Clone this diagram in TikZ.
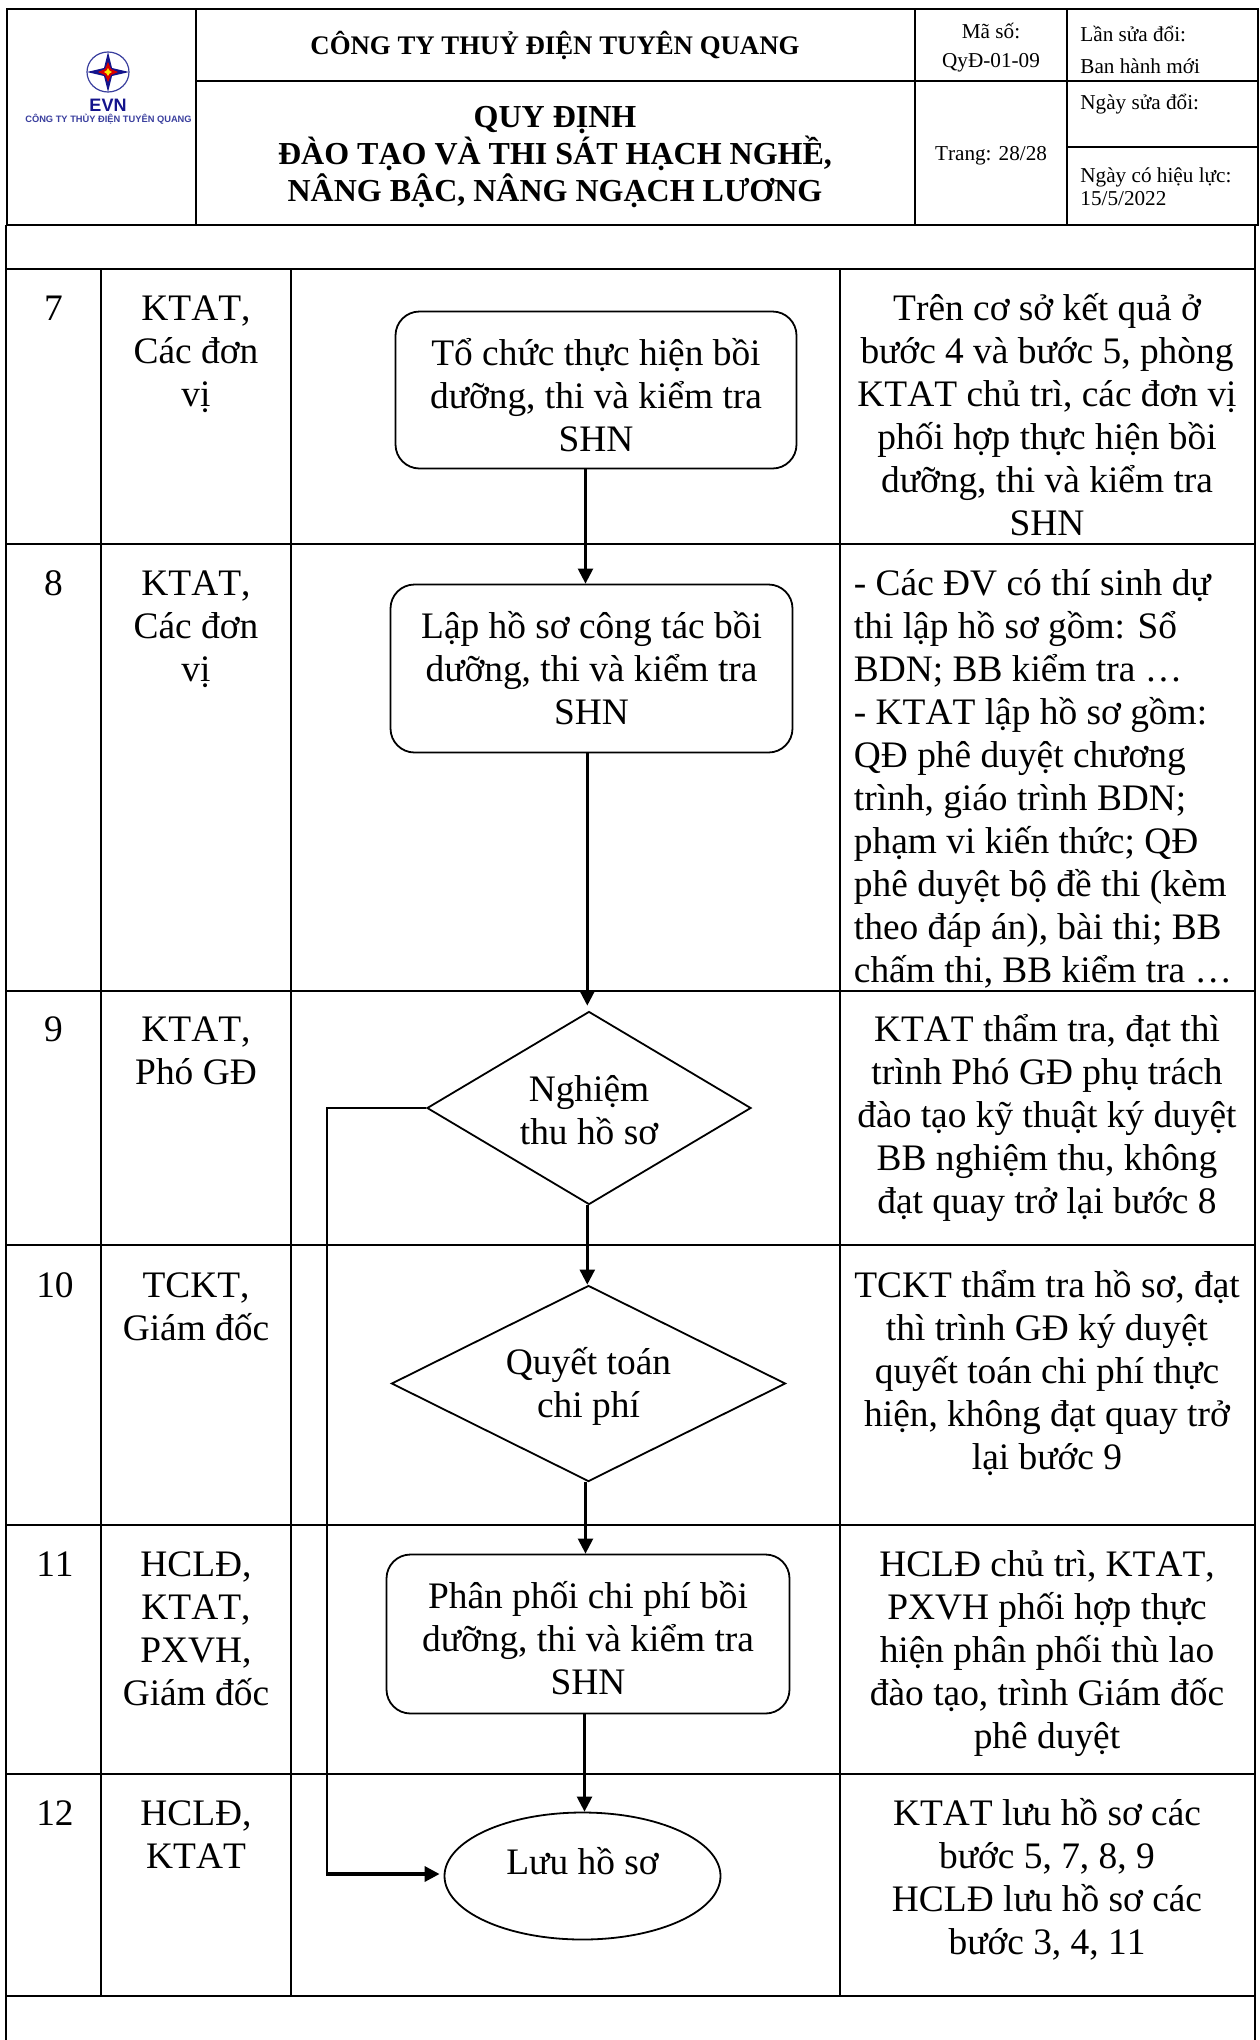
\documentclass[tikz,border=0pt]{standalone}
\usepackage{fontspec}
\setmainfont[Kerning=Off]{Liberation Serif}
\newfontfamily\logofont{Liberation Sans}
\usetikzlibrary{shapes.geometric,arrows.meta}
\newcommand\bodyfs{\fontsize{18.7}{21.5}\selectfont}
\newcommand\titlefs{\fontsize{13.4}{15}\bfseries\selectfont}
\newcommand\bigtitlefs{\fontsize{16}{18.8}\bfseries\selectfont}
\newcommand\smallfs{\fontsize{10.6}{12}\selectfont}
\newcommand\shifttext[2]{\raisebox{#1}[\height][\depth]{\begin{tabular}{@{}c@{}}#2\end{tabular}}}
\definecolor{evnblue}{HTML}{14148C}
\definecolor{evnlight}{HTML}{3A3F9E}
\tikzset{
  x=0.5pt,y=-0.5pt,
  grid/.style={line width=1pt,black},
  hgrid/.style={line width=1.3pt,black},
  cellc/.style={anchor=north,inner sep=0pt,align=center,font=\bodyfs},
  celll/.style={anchor=north west,inner sep=0pt,align=left,font=\bodyfs},
  smallc/.style={anchor=base,inner sep=0pt,font=\smallfs},
  smalll/.style={anchor=base west,inner sep=0pt,font=\smallfs},
  titlec/.style={anchor=base,inner sep=0pt,font=\titlefs},
  bigtitlec/.style={anchor=base,inner sep=0pt,font=\bigtitlefs},
  rbox/.style={draw,line width=0.9pt,rounded corners=12pt,inner sep=0pt,font=\bodyfs},
  dbox/.style={draw,line width=0.9pt,diamond,aspect=1.6,inner sep=0pt,font=\bodyfs},
  ebox/.style={draw,line width=0.9pt,ellipse,inner sep=0pt,font=\bodyfs},
  arr/.style={line width=1.2pt,-{Triangle[length=7.5pt,width=7.5pt]}},
}
\begin{document}
\begin{tikzpicture}
\useasboundingbox (0,0) rectangle (1259,2040);
\fill[white] (0,0) rectangle (1259,2040);
% header frame
\draw[hgrid] (7,9) rectangle (1258,225);
\draw[hgrid] (196,9) -- (196,225);
\draw[hgrid] (915,9) -- (915,225);
\draw[hgrid] (1067,9) -- (1067,225);
\draw[hgrid] (196,81) -- (1258,81);
\draw[hgrid] (1067,147) -- (1258,147);
% main table
\draw[grid] (6,225) -- (6,2040);
\draw[grid] (1255,225) -- (1255,2040);
\foreach \yy in {269,544,991,1245,1525,1774,1996} \draw[hgrid] (6,\yy) -- (1255,\yy);
\foreach \xx in {101,291,840} \draw[grid] (\xx,269) -- (\xx,1996);
% logo
\draw[evnlight,line width=0.6pt] (108,72) ellipse [x radius=21,y radius=20];
\fill[evnblue] (108,52) -- (112,68) -- (129,72) -- (112,76) -- (108,92) -- (104,76) -- (87,72) -- (104,68) -- cycle;
\fill[red!85!black] (108,62) -- (111,69) -- (118,72) -- (111,75) -- (108,82) -- (105,75) -- (98,72) -- (105,69) -- cycle;
\fill[yellow!90!orange] (108,68) -- (109.5,70.5) -- (112,72) -- (109.5,73.5) -- (108,76) -- (106.5,73.5) -- (104,72) -- (106.5,70.5) -- cycle;
\node[inner sep=0pt,text=evnblue,font=\logofont\fontsize{9}{10}\bfseries\selectfont] (logoa) at (108,105) {EVN};
\node[inner sep=0pt,text=evnlight,font=\logofont\fontsize{4.65}{6}\bfseries\selectfont] (logob) at (108.5,119) {CÔNG TY THỦY ĐIỆN TUYÊN QUANG};
% header text
\node[titlec] (h1) at (555,54) {CÔNG TY THUỶ ĐIỆN TUYÊN QUANG};
\node[bigtitlec] (h2) at (555,127) {QUY ĐỊNH};
\node[bigtitlec] (h3) at (555,164) {ĐÀO TẠO VÀ THI SÁT HẠCH NGHỀ,};
\node[bigtitlec] (h4) at (555,201) {NÂNG BẬC, NÂNG NGẠCH LƯƠNG};
\node[smallc] (m1) at (991,38.5) {Mã số:};
\node[smallc] (m2) at (991,67.5) {QyĐ-01-09};
\node[smallc] (m3) at (991,160.5) {Trang: 28/28};
\node[smalll] (r1) at (1080,41.5) {Lần sửa đổi:};
\node[smalll] (r2) at (1080,73.5) {Ban hành mới};
\node[smalll] (r3) at (1080,109.5) {Ngày sửa đổi:};
\node[smalll] (r4) at (1080,182.5) {Ngày có hiệu lực:};
\node[smalll] (r5) at (1080,205.5) {15/5/2022};
% column 1
\node[cellc] (n7) at (53.5,289.5) {\strut 7};
\node[cellc] (n8) at (53.5,564.5) {\strut 8};
\node[cellc] (n9) at (53.5,1010.5) {\strut 9};
\node[cellc] (n10) at (55,1266.5) {\strut 10};
\node[cellc] (n11) at (55,1545.5) {\strut 11};
\node[cellc] (n12) at (55,1794.5) {\strut 12};
% column 2
\node[cellc] (u7) at (196,289.5) {\strut KTAT,\\Các đơn\\vị};
\node[cellc] (u8) at (196,564.5) {\strut KTAT,\\Các đơn\\vị};
\node[cellc] (u9) at (196,1010.5) {\strut KTAT,\\Phó GĐ};
\node[cellc] (u10) at (196,1266.5) {\strut TCKT,\\Giám đốc};
\node[cellc] (u11) at (196,1545.5) {\strut HCLĐ,\\KTAT,\\PXVH,\\Giám đốc};
\node[cellc] (u12) at (196,1794.5) {\strut HCLĐ,\\KTAT};
% column 4
\node[cellc] (t7) at (1047,289.5) {\strut Trên cơ sở kết quả ở\\bước 4 và bước 5, phòng\\KTAT chủ trì, các đơn vị\\phối hợp thực hiện bồi\\dưỡng, thi và kiểm tra\\SHN};
\node[celll] (t8) at (853.5,564.5) {\strut - Các ĐV có thí sinh dự\\thi lập hồ sơ gồm: Sổ\\BDN; BB kiểm tra …\\- KTAT lập hồ sơ gồm:\\QĐ phê duyệt chương\\trình, giáo trình BDN;\\phạm vi kiến thức; QĐ\\phê duyệt bộ đề thi (kèm\\theo đáp án), bài thi; BB\\chấm thi, BB kiểm tra …};
\node[cellc] (t9) at (1047,1010.5) {\strut KTAT thẩm tra, đạt thì\\trình Phó GĐ phụ trách\\đào tạo kỹ thuật ký duyệt\\BB nghiệm thu, không\\đạt quay trở lại bước 8};
\node[cellc] (t10) at (1047,1266.5) {\strut TCKT thẩm tra hồ sơ, đạt\\thì trình GĐ ký duyệt\\quyết toán chi phí thực\\hiện, không đạt quay trở\\lại bước 9};
\node[cellc] (t11) at (1047,1545.5) {\strut HCLĐ chủ trì, KTAT,\\PXVH phối hợp thực\\hiện phân phối thù lao\\đào tạo, trình Giám đốc\\phê duyệt};
\node[cellc] (t12) at (1047,1794.5) {\strut KTAT lưu hồ sơ các\\bước 5, 7, 8, 9\\HCLĐ lưu hồ sơ các\\bước 3, 4, 11};
% flow shapes
\node[rbox,minimum width=200.5pt,minimum height=78.5pt] (b7) at (596,390) {\shifttext{-4.8pt}{Tổ chức thực hiện bồi\\dưỡng, thi và kiểm tra\\SHN}};
\node[rbox,minimum width=201pt,minimum height=84pt] (b8) at (591.5,668.5) {\shifttext{-2.1pt}{Lập hồ sơ công tác bồi\\dưỡng, thi và kiểm tra\\SHN}};
\node[dbox,minimum width=162pt,minimum height=96.5pt] (d9) at (589,1108) {\shifttext{-3.3pt}{Nghiệm\\thu hồ sơ}};
\node[dbox,minimum width=197pt,minimum height=98pt] (d10) at (588.5,1383.5) {\shifttext{-2pt}{Quyết toán\\chi phí}};
\node[rbox,minimum width=201.5pt,minimum height=79.5pt] (b11) at (588,1634) {\shifttext{-4.5pt}{Phân phối chi phí bồi\\dưỡng, thi và kiểm tra\\SHN}};
\node[ebox,minimum width=138pt,minimum height=63.5pt] (e12) at (582.5,1876) {\shifttext{5pt}{Lưu hồ sơ}};
% connectors
\coordinate (x78) at (585.5,0);
\coordinate (x89) at (587.3,0);
\coordinate (x1011) at (585.5,0);
\coordinate (x1112) at (584.5,0);
\coordinate (loop) at (326.5,0);
\draw[arr] (b7.south -| x78) -- (b8.north -| x78);
\draw[arr,shorten >=2.5pt] (b8.south -| x89) -- (d9.north -| x89);
\draw[arr] (d9.south -| x89) -- (d10.north -| x89);
\draw[arr] (d10.south -| x1011) -- (b11.north -| x1011);
\draw[arr] (b11.south -| x1112) -- (e12.north -| x1112);
\draw[line width=1pt] (d9.west) -- (d9.west -| loop) -- (e12.west -| loop);
\draw[arr,line width=1.7pt] ([yshift=1pt]e12.west -| loop) -- ([yshift=1pt,xshift=-2pt]e12.west);
\end{tikzpicture}
\end{document}
